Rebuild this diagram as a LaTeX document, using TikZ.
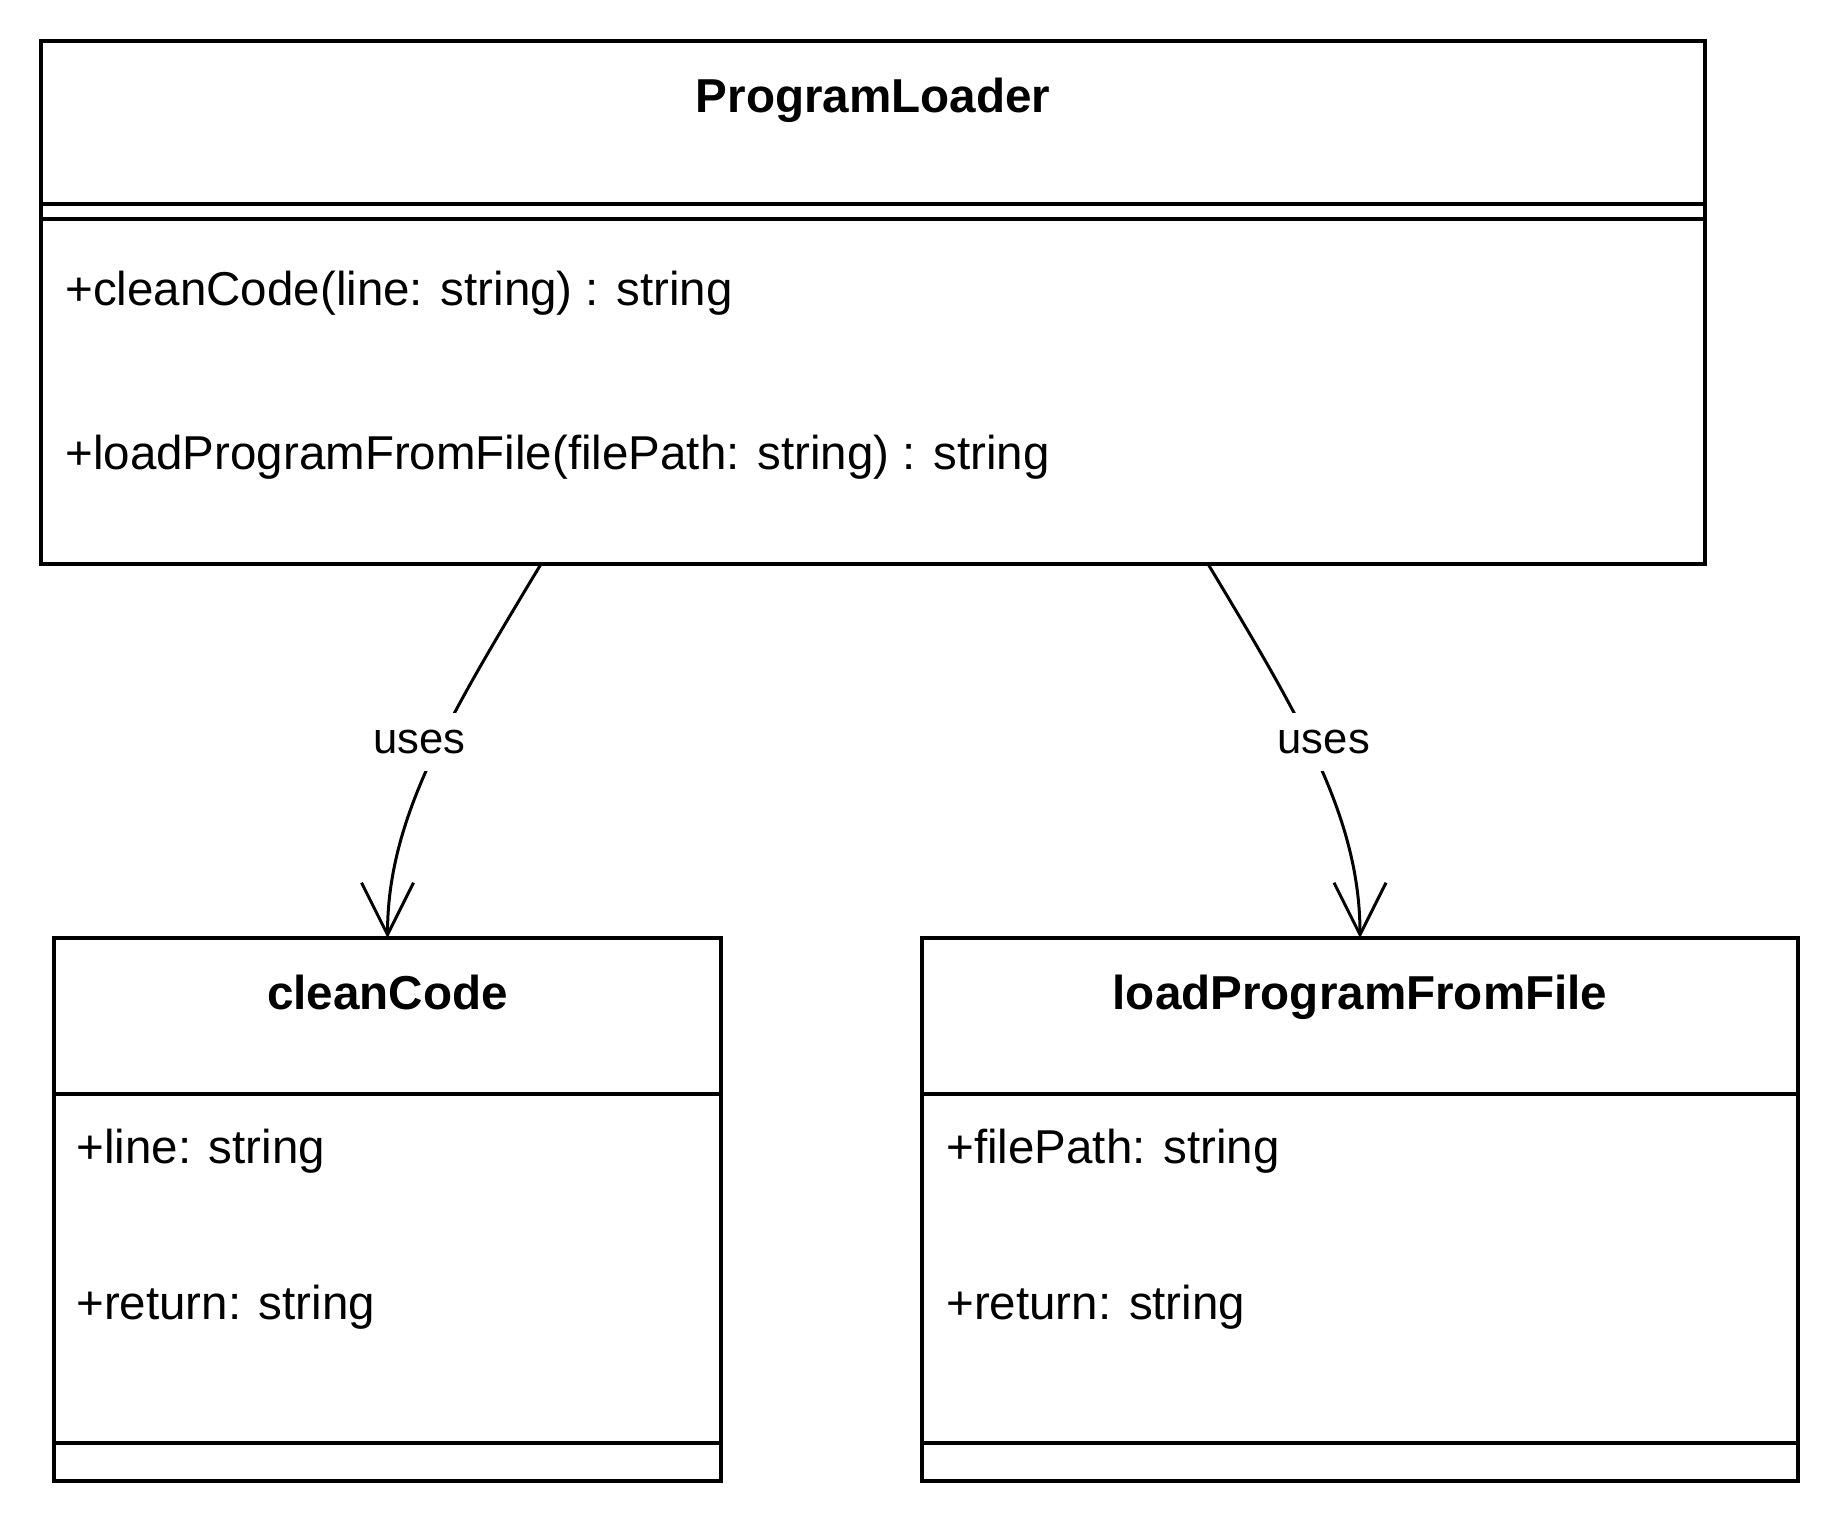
\documentclass[tikz,border=0pt]{standalone}
\usepackage{fontspec}
\setmainfont{Liberation Sans}
\usepackage{tikz}
\usetikzlibrary{arrows.meta,calc}

\tikzset{
  classbox/.style={draw, line width=1.6pt, rectangle, inner sep=0pt, outer sep=0pt},
  divider/.style={line width=1.6pt},
  classtitle/.style={font=\fontsize{23.8}{28}\selectfont\bfseries, inner sep=0pt},
  member/.style={font=\fontsize{23.75}{28}\selectfont, inner sep=0pt, anchor=base west},
  uses/.style={line width=1.5pt, -{Straight Barb[length=26pt, width=26pt, line width=1.5pt]}},
  usesLabel/.style={font=\fontsize{21.8}{26}\selectfont, fill=white, inner sep=2pt, minimum height=29pt}
}

\begin{document}
\begin{tikzpicture}[x=0.5pt, y=0.5pt]
    \useasboundingbox (0,0) rectangle (1840,-1524);

    % Boxes
    \node[classbox, minimum width=832pt, minimum height=261.5pt] (loader) at (873,-302.5) {};
    \node[classbox, minimum width=333.5pt, minimum height=271.5pt] (clean) at (387.5,-1209.5) {};
    \node[classbox, minimum width=438pt, minimum height=271.5pt] (load) at (1360,-1209.5) {};

    % Dividers
    \draw[divider] ([yshift=-81.5pt]loader.north west) -- ([yshift=-81.5pt]loader.north east);
    \draw[divider] ([yshift=-89pt]loader.north west) -- ([yshift=-89pt]loader.north east);
    \draw[divider] ([yshift=-78pt]clean.north west) -- ([yshift=-78pt]clean.north east);
    \draw[divider] ([yshift=-252.5pt]clean.north west) -- ([yshift=-252.5pt]clean.north east);
    \draw[divider] ([yshift=-78pt]load.north west) -- ([yshift=-78pt]load.north east);
    \draw[divider] ([yshift=-252.5pt]load.north west) -- ([yshift=-252.5pt]load.north east);

    % Titles
    \node[classtitle, anchor=base] (loaderTitle) at (873,-113) {ProgramLoader};
    \node[classtitle, anchor=base] (cleanTitle) at (387.5,-1009) {cleanCode};
    \node[classtitle, anchor=base] (loadTitle) at (1360,-1009) {loadProgramFromFile};

    % Members
    \node[member] (loaderOpA) at (65,-306) {+cleanCode(line: string) : string};
    \node[member] (loaderOpB) at (65,-469) {+loadProgramFromFile(filePath: string) : string};
    \node[member] (cleanAttrA) at (76,-1163) {+line: string};
    \node[member] (cleanAttrB) at (76,-1319) {+return: string};
    \node[member] (loadAttrA) at (946,-1163) {+filePath: string};
    \node[member] (loadAttrB) at (946,-1319) {+return: string};

    % Dependencies
    \draw[uses] ([xshift=-166pt]loader.south) to[out=-121, in=90, out distance=90pt, in distance=60pt]
        node[usesLabel, pos=0.44, xshift=-10pt] (usesClean) {uses} (clean.north);
    \draw[uses] ([xshift=167.5pt]loader.south) to[out=-59, in=90, out distance=90pt, in distance=60pt]
        node[usesLabel, pos=0.44, xshift=7.5pt] (usesLoad) {uses} (load.north);
\end{tikzpicture}
\end{document}
